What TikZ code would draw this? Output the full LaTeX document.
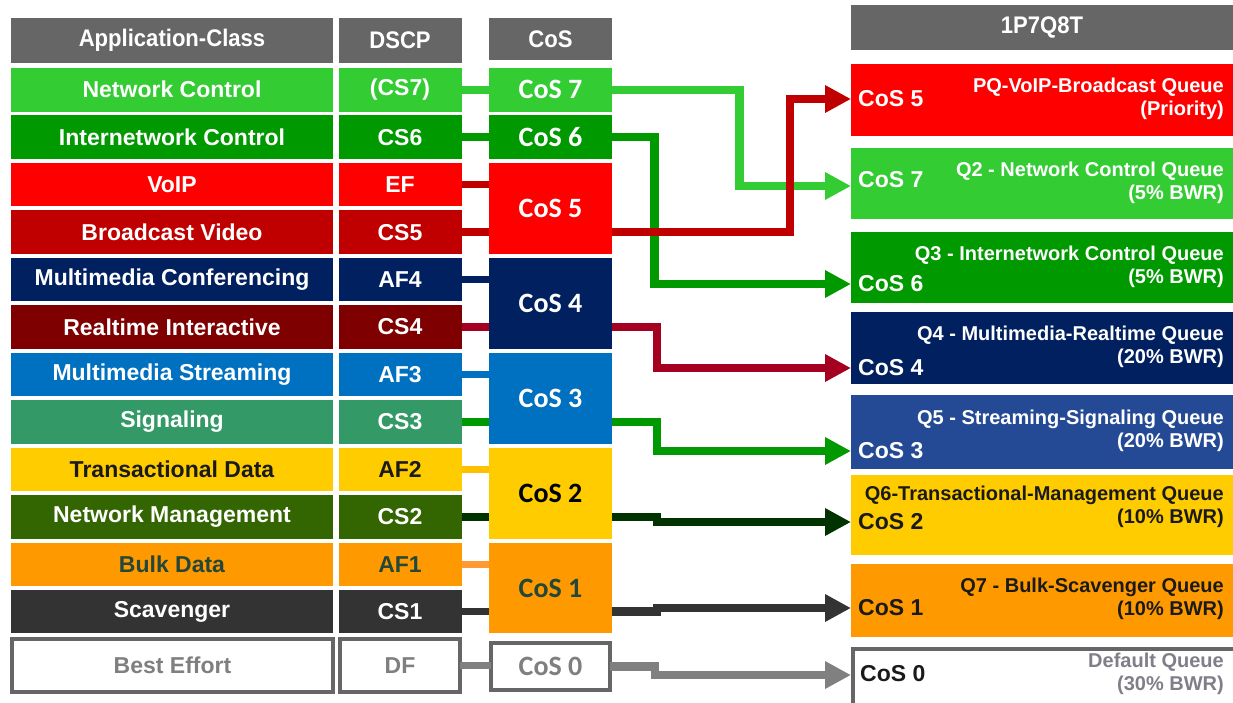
\documentclass[tikz,border=0pt]{standalone}
\usepackage{fontspec}
\setmainfont{Liberation Sans}
\newfontfamily\cosfont{Carlito}
\newfontfamily\narrowfont[FakeStretch=0.92]{Liberation Sans}
\usetikzlibrary{arrows.meta}
\definecolor{hdr}{HTML}{666666}
\definecolor{cNC}{HTML}{33CC33}
\definecolor{cIC}{HTML}{009900}
\definecolor{cVO}{HTML}{FF0000}
\definecolor{cBV}{HTML}{C00000}
\definecolor{cMC}{HTML}{002060}
\definecolor{cRT}{HTML}{7F0000}
\definecolor{cMS}{HTML}{0070C0}
\definecolor{cSG}{HTML}{339966}
\definecolor{cTD}{HTML}{FFCC00}
\definecolor{cNM}{HTML}{336600}
\definecolor{cBD}{HTML}{FF9900}
\definecolor{cSC}{HTML}{333333}
\definecolor{lRT}{HTML}{A50021}
\definecolor{lTD}{HTML}{FFC000}
\definecolor{lNM}{HTML}{003300}
\definecolor{lBD}{HTML}{FF9933}
\definecolor{lDF}{HTML}{808080}
\definecolor{cQ5}{HTML}{254A95}
\definecolor{txtBD}{HTML}{24473A}
\definecolor{txtGr}{HTML}{7F7F7F}
\definecolor{txtQ0}{HTML}{7F7F8A}
\definecolor{txtDk}{HTML}{1A1A1A}
\tikzset{
  cell/.style={rectangle, inner sep=0pt, outer sep=0pt, anchor=north west,
    font={\fontsize{23}{26}\selectfont\bfseries}, text=white},
  appcell/.style={cell, minimum width=322pt, minimum height=43.5pt},
  dscpcell/.style={cell, minimum width=123pt, minimum height=43.5pt},
  coscell/.style={cell, minimum width=123pt, font={\cosfont\fontsize{28}{30}\selectfont\bfseries}},
  hdrcell/.style={cell, fill=hdr, font={\narrowfont\fontsize{24}{26}\selectfont\bfseries}},
  outcell/.style={cell, draw=hdr, line width=4pt, fill=white, text=txtGr},
  qbox/.style={rectangle, inner sep=0pt, outer sep=0pt, anchor=north west, minimum width=382pt},
  qtitle/.style={inner sep=0pt, anchor=east, align=right, text=white,
    font={\fontsize{20}{23}\selectfont\bfseries}},
  qcos/.style={inner sep=0pt, anchor=west, text=white,
    font={\fontsize{23}{26}\selectfont\bfseries}},
  link/.style={line width=7.5pt},
  arr/.style={line width=8.5pt, -{Triangle[length=26pt,width=26pt]}},
}
\newcommand\tablerow[8]{%
  \node[appcell, fill=#4, text=#5] (#1) at (11,#3) {#6};
  \node[dscpcell, fill=#4, text=#5] (#2) at (338.5,#3) {#7};
}
\begin{document}
\begin{tikzpicture}[x=1pt,y=-1pt]
\useasboundingbox (0,0) rectangle (1233,702);
\clip (0,0) rectangle (1233,702);
% headers
\node[hdrcell, minimum width=322pt, minimum height=45pt] (happ) at (11,18) {Application-Class};
\node[hdrcell, minimum width=123pt, minimum height=45pt] (hdscp) at (338.5,18) {DSCP};
\node[hdrcell, minimum width=123pt, minimum height=42pt] (hcos) at (489,18) {CoS};
\node[hdrcell, minimum width=382pt, minimum height=45pt] (hq) at (851,5) {1P7Q8T};
% left table rows
\tablerow{nc}{ncd}{68}{cNC}{white}{Network Control}{(CS7)}{}
\tablerow{ic}{icd}{115.45}{cIC}{white}{Internetwork Control}{CS6}{}
\tablerow{vo}{vod}{162.9}{cVO}{white}{VoIP}{EF}{}
\tablerow{bv}{bvd}{210.35}{cBV}{white}{Broadcast Video}{CS5}{}
\tablerow{mc}{mcd}{257.8}{cMC}{white}{Multimedia Conferencing}{AF4}{}
\tablerow{rt}{rtd}{305.25}{cRT}{white}{Realtime Interactive}{CS4}{}
\tablerow{ms}{msd}{352.7}{cMS}{white}{Multimedia Streaming}{AF3}{}
\tablerow{sg}{sgd}{400.15}{cSG}{white}{Signaling}{CS3}{}
\tablerow{td}{tdd}{447.6}{cTD}{txtDk}{Transactional Data}{AF2}{}
\tablerow{nm}{nmd}{495.05}{cNM}{white}{Network Management}{CS2}{}
\tablerow{bd}{bdd}{542.5}{cBD}{txtBD}{Bulk Data}{AF1}{}
\tablerow{sc}{scd}{589.95}{cSC}{white}{Scavenger}{CS1}{}
\node[outcell, minimum width=321pt, minimum height=53pt] (be) at (12,639) {Best Effort};
\node[outcell, minimum width=120pt, minimum height=53pt] (bed) at (340,639) {DF};
% CoS column
\node[coscell, fill=cNC, minimum height=43.5pt] (cos7) at (489,68) {CoS 7};
\node[coscell, fill=cIC, minimum height=43.5pt] (cos6) at (489,115.45) {CoS 6};
\node[coscell, fill=cVO, minimum height=90.95pt] (cos5) at (489,162.9) {CoS 5};
\node[coscell, fill=cMC, minimum height=90.95pt] (cos4) at (489,257.8) {CoS 4};
\node[coscell, fill=cMS, minimum height=90.95pt] (cos3) at (489,352.7) {CoS 3};
\node[coscell, fill=cTD, text=black, minimum height=90.95pt] (cos2) at (489,447.6) {CoS 2};
\node[coscell, fill=cBD, text=txtBD, minimum height=90.95pt] (cos1) at (489,542.5) {CoS 1};
\node[coscell, draw=hdr, line width=4pt, fill=white, text=txtGr, minimum width=119pt, minimum height=47pt] (cos0) at (491,643) {CoS 0};
% DSCP -> CoS links
\draw[link, draw=cNC] (ncd.east) -- (cos7.west |- ncd.east);
\draw[link, draw=cIC] (icd.east) -- (cos6.west |- icd.east);
\draw[link, draw=cBV] (vod.east) -- (cos5.west |- vod.east);
\draw[link, draw=cBV] (bvd.east) -- (cos5.west |- bvd.east);
\draw[link, draw=cMC] (mcd.east) -- (cos4.west |- mcd.east);
\draw[link, draw=lRT] (rtd.east) -- (cos4.west |- rtd.east);
\draw[link, draw=cMS] (msd.east) -- (cos3.west |- msd.east);
\draw[link, draw=cIC] (sgd.east) -- (cos3.west |- sgd.east);
\draw[link, draw=lTD] (tdd.east) -- (cos2.west |- tdd.east);
\draw[link, draw=lNM] (nmd.east) -- (cos2.west |- nmd.east);
\draw[link, draw=lBD] (bdd.east) -- (cos1.west |- bdd.east);
\draw[link, draw=cSC] (scd.east) -- (cos1.west |- scd.east);
\draw[link, draw=lDF] (bed.east) -- (cos0.west |- bed.east);
% queue boxes
\node[qbox, fill=cVO, minimum height=72pt] (pq) at (851,64) {};
\node[qbox, fill=cNC, minimum height=71pt] (q2) at (851,148) {};
\node[qbox, fill=cIC, minimum height=71pt] (q3) at (851,232) {};
\node[qbox, fill=cMC, minimum height=72pt] (q4) at (851,312) {};
\node[qbox, fill=cQ5, minimum height=74pt] (q5) at (851,395) {};
\node[qbox, fill=cTD, minimum height=80pt] (q6) at (851,475) {};
\node[qbox, fill=cBD, minimum height=73pt] (q7) at (851,564) {};
\node[qbox, draw=hdr, line width=4pt, fill=white, minimum width=390pt, minimum height=70pt] (q0) at (853,649) {};
% queue texts
\node[qtitle] (pqt) at (1224,99) {PQ-VoIP-Broadcast Queue\\(Priority)};
\node[qcos] (pqc) at (858,99) {CoS 5};
\node[qtitle] (q2t) at (1224,183) {Q2 - Network Control Queue\\(5\% BWR)};
\node[qcos] (q2c) at (858,180) {CoS 7};
\node[qtitle] (q3t) at (1224,267) {Q3 - Internetwork Control Queue\\(5\% BWR)};
\node[qcos] (q3c) at (858,284) {CoS 6};
\node[qtitle] (q4t) at (1224,347) {Q4 - Multimedia-Realtime Queue\\(20\% BWR)};
\node[qcos] (q4c) at (858,368) {CoS 4};
\node[qtitle] (q5t) at (1224,430.5) {Q5 - Streaming-Signaling Queue\\(20\% BWR)};
\node[qcos] (q5c) at (858,451) {CoS 3};
\node[qtitle, text=txtDk] (q6t) at (1224,507) {Q6-Transactional-Management Queue\\(10\% BWR)};
\node[qcos, text=txtDk] (q6c) at (858,522) {CoS 2};
\node[qtitle, text=txtDk] (q7t) at (1224,598.5) {Q7 - Bulk-Scavenger Queue\\(10\% BWR)};
\node[qcos, text=txtDk] (q7c) at (858,608) {CoS 1};
\node[qtitle, text=txtQ0] (q0t) at (1224,674) {Default Queue\\(30\% BWR)};
\node[qcos, text=txtDk] (q0c) at (860,674) {CoS 0};
% arrow targets
\coordinate (pqin) at (851,99);
\coordinate (q2in) at (851,186);
\coordinate (q3in) at (851,284);
\coordinate (q4in) at (851,368);
\coordinate (q5in) at (851,451);
\coordinate (q6in) at (851,522);
\coordinate (q7in) at (851,608);
\coordinate (q0in) at (851,675);
% CoS -> queue arrows
\draw[arr, draw=cNC] (cos7.east) -- ++(127.5,0) |- (q2in);
\draw[arr, draw=cIC] (cos6.east) -- ++(42.5,0) |- (q3in);
\draw[arr, draw=cBV] (cos5.east |- bvd.east) -- ++(178,0) |- (pqin);
\draw[arr, draw=lRT] (cos4.east |- rtd.east) -- ++(45,0) |- (q4in);
\draw[arr, draw=cIC] (cos3.east |- sgd.east) -- ++(45,0) |- (q5in);
\draw[arr, draw=lNM] (cos2.east |- nmd.east) -- ++(45,0) |- (q6in);
\draw[arr, draw=cSC] (cos1.east |- scd.east) -- ++(45,0) |- (q7in);
\draw[arr, draw=lDF] (cos0.east) -- ++(45,0) |- (q0in);
\end{tikzpicture}
\end{document}
